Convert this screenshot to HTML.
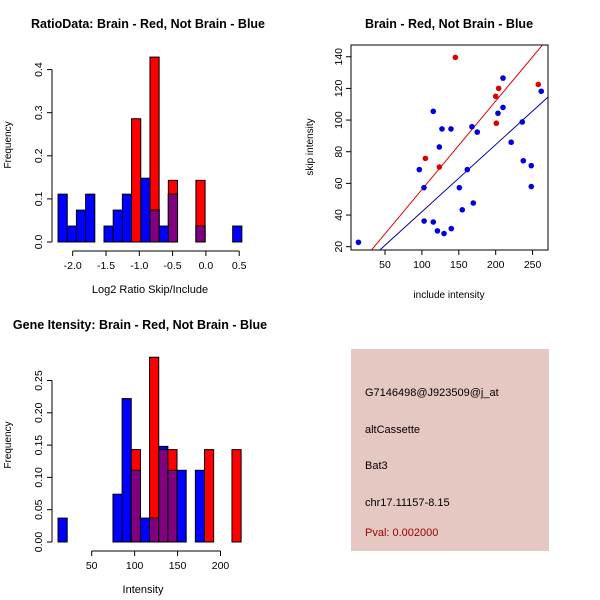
<!DOCTYPE html>
<html><head><meta charset="utf-8"><style>
html,body{margin:0;padding:0;background:#fff;}
svg{display:block;font-family:"Liberation Sans","DejaVu Sans",sans-serif;}
.t{font-weight:bold;font-size:12.5px;}
.l{font-size:11px;}
.k{font-size:10.5px;}
</style></head><body>
<svg id="s" width="600" height="600" viewBox="0 0 600 600" xmlns="http://www.w3.org/2000/svg">
<rect width="600" height="600" fill="#fff"/>
<text class="t" x="148" y="28" text-anchor="middle">RatioData: Brain - Red, Not Brain - Blue</text>
<text class="t" x="449" y="28" text-anchor="middle">Brain - Red, Not Brain - Blue</text>
<text class="t" x="140" y="329" text-anchor="middle">Gene Itensity: Brain - Red, Not Brain - Blue</text>
<g id="g1"></g>
<g id="g2"></g>
<g id="g3"></g>
<g>
<rect x="351" y="349" width="198" height="202" fill="#e5c8c2"/>
<text class="l" x="365" y="396">G7146498@J923509@j_at</text>
<text class="l" x="365" y="433">altCassette</text>
<text class="l" x="365" y="469">Bat3</text>
<text class="l" x="365" y="506">chr17.11157-8.15</text>
<text class="l" x="365" y="536" fill="#a00000">Pval: 0.002000</text>
</g>
</svg>
<script>
// ---- Ratio histogram data ----
const ratioBinStart = -2.22;
const ratioBinWidth = 0.138;
const ratioBlue = [0.111,0.037,0.074,0.111,0,0.037,0.074,0.111,0,0.148,0.074,0.037,0.111,0,0,0.037,0,0,0,0.037];
const ratioRed  = [0,0,0,0,0,0,0,0,0.286,0,0.429,0,0.143,0,0,0.143,0,0,0,0];
const ratioXTicks = [-2.0,-1.5,-1.0,-0.5,0.0,0.5];
const ratioXTickLabels = ["-2.0","-1.5","-1.0","-0.5","0.0","0.5"];
const ratioYTicks = [0,0.1,0.2,0.3,0.4];
const ratioYTickLabels = ["0.0","0.1","0.2","0.3","0.4"];
// ---- Intensity histogram data ----
const intBinStart = 10.8;
const intBinWidth = 10.66;
const intBlue = [0.037,0,0,0,0,0,0.074,0.222,0.111,0.037,0.037,0.148,0.111,0.111,0,0.111,0,0,0,0];
const intRed  = [0,0,0,0,0,0,0,0,0.143,0,0.286,0.143,0.143,0,0,0,0.143,0,0,0.143];
const intXTicks = [50,100,150,200];
const intXTickLabels = ["50","100","150","200"];
const intYTicks = [0,0.05,0.10,0.15,0.20,0.25];
const intYTickLabels = ["0.00","0.05","0.10","0.15","0.20","0.25"];
// ---- Scatter data ----
const blueX = [14,96.5,102.8,103,115.4,115.4,123.6,121,127.2,130,139.4,139.8,150.7,154.7,161.5,167.8,169.6,175,203.1,209.9,209.9,221,236,237.4,248.2,248.2,261.7];
const blueY = [22.8,68.7,57.3,36.2,105.5,35.6,83,30,94.4,28.3,94.4,31.4,57.3,43.3,68.7,95.8,47.6,92.4,104.3,126.5,108,86,98.8,74.3,71.2,58,118.2];
const redX = [145.3,104.7,123.6,200,200.8,204,257.7];
const redY = [139.6,75.8,70.3,115,98,120,122.5];
const redFit = [0.2,0.559];
const blueFit = [-0.3,0.424];
const scXTicks = [50,100,150,200,250];
const scYTicks = [20,40,60,80,100,120,140];

const NS="http://www.w3.org/2000/svg";
function mk(p,tag,a){const e=document.createElementNS(NS,tag);for(const k in a)e.setAttribute(k,a[k]);p.appendChild(e);return e;}

function hist(g,o){
  const sx=v=>o.px0+(v-o.x0)*o.kx, sy=v=>o.py0-v*o.ky;
  const n=o.blue.length;
  for(let i=0;i<n;i++){
    const a=sx(o.bs+i*o.bw), b=sx(o.bs+(i+1)*o.bw);
    const bl=o.blue[i], rd=o.red[i];
    if(bl>0){const r=mk(g,'rect',{x:a,y:sy(bl),width:b-a,height:sy(0)-sy(bl),fill:'#0000ff',stroke:'#000','stroke-width':1});
      
      }
    if(rd>0){const r=mk(g,'rect',{x:a,y:sy(rd),width:b-a,height:sy(0)-sy(rd),fill:'#ff0000',stroke:'#000','stroke-width':1});
      
      }
    if(bl>0&&rd>0){const m=Math.min(bl,rd);const r=mk(g,'rect',{x:a,y:sy(m),width:b-a,height:sy(0)-sy(m),fill:'#800080',stroke:'#000','stroke-width':1});
      
      }
  }
  const yt=o.yt;
  const ya=mk(g,'line',{x1:o.ax,x2:o.ax,y1:sy(yt[0]),y2:sy(yt[yt.length-1]),stroke:'#000'});
  
  
  yt.forEach((v,i)=>{mk(g,'line',{x1:o.ax-5,x2:o.ax,y1:sy(v),y2:sy(v),stroke:'#000'});
    const t=mk(g,'text',{x:0,y:0,class:'k','text-anchor':'middle',transform:`translate(${o.ax-10},${sy(v)}) rotate(-90)`});
    t.textContent=o.ytl[i];
    
    });
  const xt=o.xt;
  const xa=mk(g,'line',{x1:sx(xt[0]),x2:sx(xt[xt.length-1]),y1:o.ay,y2:o.ay,stroke:'#000'});
  
  
  xt.forEach((v,i)=>{mk(g,'line',{x1:sx(v),x2:sx(v),y1:o.ay,y2:o.ay+5,stroke:'#000'});
    const t=mk(g,'text',{x:sx(v),y:o.ay+18,class:'k','text-anchor':'middle'});
    t.textContent=o.xtl[i];
    
    });
  const xl=mk(g,'text',{x:o.xlx,y:o.ay+42,class:'l','text-anchor':'middle'});
  xl.textContent=o.xlab;
  
  
  const yl=mk(g,'text',{x:0,y:0,class:'l','text-anchor':'middle',transform:`translate(11,${o.ylY}) rotate(-90)`,style:'font-size:10px'});
  yl.textContent='Frequency';
  
  
}
hist(document.getElementById('g1'),{blue:ratioBlue,red:ratioRed,bs:ratioBinStart,bw:ratioBinWidth,x0:-2.0,px0:72.7,kx:66.6,py0:242,ky:431,ax:52,ay:251,xt:ratioXTicks,xtl:ratioXTickLabels,yt:ratioYTicks,ytl:ratioYTickLabels,xlab:'Log2 Ratio Skip/Include',xlx:150,ylY:145});
hist(document.getElementById('g3'),{blue:intBlue,red:intRed,bs:intBinStart,bw:intBinWidth,x0:50,px0:91.7,kx:0.8587,py0:542,ky:646,ax:52,ay:551,xt:intXTicks,xtl:intXTickLabels,yt:intYTicks,ytl:intYTickLabels,xlab:'Intensity',xlx:143,ylY:445});

(function(){
  const g=document.getElementById('g2');
  const sx=v=>385+(v-50)*0.738, sy=v=>246.7-(v-20)*1.583;
  const L=351,R=548,T=45,B=250;
  const cp=mk(g,'clipPath',{id:'cp'});mk(cp,'rect',{x:L,y:T,width:R-L,height:B-T});
  [[redFit,'#dd0000','red-fit-line'],[blueFit,'#0000aa','blue-fit-line']].forEach(([f,c,n])=>{
    const x1=0,x2=300;
    const l=mk(g,'line',{x1:sx(x1),y1:sy(f[0]+f[1]*x1),x2:sx(x2),y2:sy(f[0]+f[1]*x2),stroke:c,'stroke-width':1,'clip-path':'url(#cp)'});
    
    
  });
  blueX.forEach((x,i)=>{const c=mk(g,'circle',{cx:sx(x),cy:sy(blueY[i]),r:2.8,fill:'#0000dd'});
    
    });
  redX.forEach((x,i)=>{const c=mk(g,'circle',{cx:sx(x),cy:sy(redY[i]),r:2.8,fill:'#dd0000'});
    
    });
  const box=mk(g,'rect',{x:L,y:T,width:R-L,height:B-T,fill:'none',stroke:'#000'});
  
  
  scXTicks.forEach(v=>{mk(g,'line',{x1:sx(v),x2:sx(v),y1:B,y2:B+5,stroke:'#000'});
    const t=mk(g,'text',{x:sx(v),y:B+18,class:'k','text-anchor':'middle'});
    t.textContent=String(v);
    
    });
  scYTicks.forEach(v=>{mk(g,'line',{x1:L-5,x2:L,y1:sy(v),y2:sy(v),stroke:'#000'});
    const t=mk(g,'text',{x:0,y:0,class:'k','text-anchor':'middle',transform:`translate(${L-9},${sy(v)}) rotate(-90)`});
    t.textContent=String(v);
    
    });
  const xl=mk(g,'text',{x:449,y:298,class:'l','text-anchor':'middle',style:'font-size:10px'});
  xl.textContent='include intensity';
  
  
  const yl=mk(g,'text',{x:0,y:0,class:'l','text-anchor':'middle',transform:'translate(313,147) rotate(-90)',style:'font-size:10px'});
  yl.textContent='skip intensity';
  
  
})();
</script>
</body></html>
